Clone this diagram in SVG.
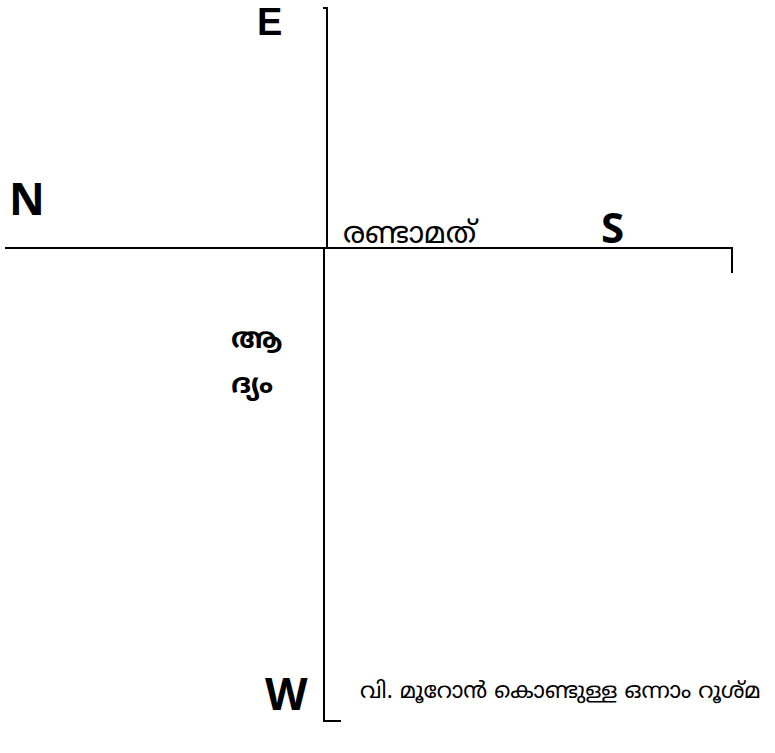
<svg xmlns="http://www.w3.org/2000/svg" width="775" height="753" viewBox="0 0 775 753">
<style>
.ln{fill:none;stroke:#000;stroke-width:2}
.dir{font-family:"Noto Sans","DejaVu Sans",sans-serif;font-weight:bold;fill:#000}
.ml{font-family:"Noto Sans Malayalam","Noto Sans","DejaVu Sans",sans-serif;fill:#000}
</style>
<rect width="775" height="753" fill="#fff"/>
<g id="connectors">
<path class="ln" d="M323,8 H327 V247"/>
<path class="ln" d="M5,248 H732 V273"/>
<path class="ln" d="M324,248 V721 H341"/>
</g>
<g id="E"><text x="257" y="35" font-size="38" font-family="'Liberation Sans',Arial,sans-serif" font-weight="bold" fill="#000">E</text></g>
<g id="N"><text class="dir" x="9" y="215" font-size="44">N</text></g>
<g id="S"><text class="dir" x="601" y="243" font-size="42">S</text></g>
<g id="W"><text class="dir" x="265" y="710" font-size="44">W</text></g>
<g id="second"><text class="ml" x="343" y="243" font-size="30">രണ്ടാമത്</text></g>
<g id="first"><text class="ml" x="231" y="348" font-size="28" font-weight="bold">ആ</text><text class="ml" x="231" y="393" font-size="28" font-weight="bold">ദ്യം</text></g>
<g id="caption"><text class="ml" x="360" y="698" font-size="22.5">വി. മൂറോൻ കൊണ്ടുള്ള ഒന്നാം റൂശ്മ</text></g>
</svg>
